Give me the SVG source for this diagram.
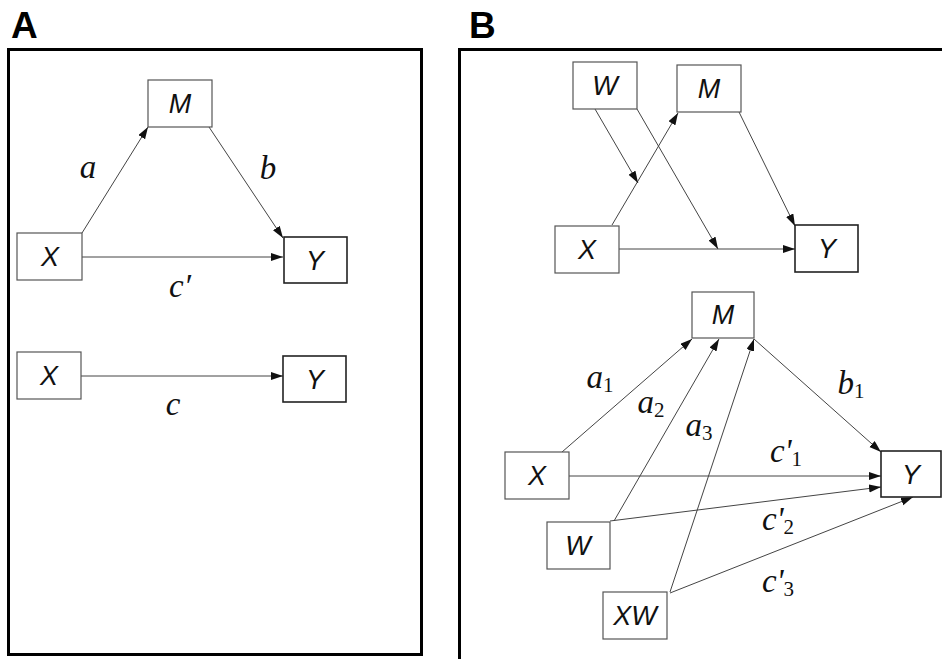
<svg xmlns="http://www.w3.org/2000/svg" width="942" height="659" viewBox="0 0 942 659">
<style>
.frame{fill:none;stroke:#000;stroke-width:3}
.box{fill:#fff;stroke:#555;stroke-width:1.2}
.boxd{fill:#fff;stroke:#222;stroke-width:1.6}
.nl{font-family:"Liberation Sans",Arial,sans-serif;font-style:italic;font-size:27px;fill:#111;text-anchor:middle}
.el{font-family:"Liberation Serif","Times New Roman",serif;font-style:italic;font-size:33px;fill:#111;text-anchor:middle}
.sub{font-style:normal;font-size:21px}
.panel{font-family:"Liberation Sans",Arial,sans-serif;font-weight:bold;font-size:37px;fill:#000}
.edge{fill:none;stroke:#444;stroke-width:1}
</style>
<defs>
<marker id="ah" markerUnits="userSpaceOnUse" markerWidth="13" markerHeight="9" refX="12" refY="4" orient="auto">
<path d="M0,0 L12,4 L0,8 z" fill="#111"/>
</marker>
</defs>
<rect width="942" height="659" fill="#fff"/>
<text class="panel" x="11" y="38">A</text>
<text class="panel" x="469" y="38">B</text>
<rect class="frame" x="8.5" y="49.5" width="413" height="605"/>
<path class="frame" d="M945,49.5 H459.5 V662"/>

<g id="connectors">
<line class="edge" x1="82" y1="233" x2="148" y2="127" marker-end="url(#ah)"/>
<line class="edge" x1="209" y1="127" x2="283" y2="238" marker-end="url(#ah)"/>
<line class="edge" x1="82" y1="257" x2="283" y2="257" marker-end="url(#ah)"/>
<line class="edge" x1="81" y1="376" x2="283" y2="376" marker-end="url(#ah)"/>

<line class="edge" x1="612" y1="225" x2="678" y2="113" marker-end="url(#ah)"/>
<line class="edge" x1="595" y1="109" x2="638" y2="183" marker-end="url(#ah)"/>
<line class="edge" x1="637" y1="109" x2="718" y2="249" marker-end="url(#ah)"/>
<line class="edge" x1="739" y1="112" x2="795" y2="226" marker-end="url(#ah)"/>
<line class="edge" x1="619" y1="249" x2="795" y2="249" marker-end="url(#ah)"/>

<line class="edge" x1="562" y1="452" x2="692" y2="339" marker-end="url(#ah)"/>
<line class="edge" x1="614" y1="521" x2="719" y2="339" marker-end="url(#ah)"/>
<line class="edge" x1="670" y1="592" x2="754" y2="339" marker-end="url(#ah)"/>
<line class="edge" x1="754" y1="339" x2="881" y2="452" marker-end="url(#ah)"/>
<line class="edge" x1="569" y1="476" x2="881" y2="476" marker-end="url(#ah)"/>
<line class="edge" x1="610" y1="521" x2="881" y2="487" marker-end="url(#ah)"/>
<line class="edge" x1="670" y1="593" x2="913" y2="497" marker-end="url(#ah)"/>
</g>

<g id="edge-labels">
<text class="el" x="88" y="178">a</text>
<text class="el" x="268" y="179">b</text>
<text class="el" x="180" y="297">c′</text>
<text class="el" x="173" y="415">c</text>
<text class="el" x="600" y="388">a<tspan class="sub" dy="4">1</tspan></text>
<text class="el" x="651" y="413">a<tspan class="sub" dy="4">2</tspan></text>
<text class="el" x="699" y="436">a<tspan class="sub" dy="4">3</tspan></text>
<text class="el" x="851" y="394">b<tspan class="sub" dy="4">1</tspan></text>
<text class="el" x="786" y="462">c'<tspan class="sub" dy="4">1</tspan></text>
<text class="el" x="778" y="530">c'<tspan class="sub" dy="4">2</tspan></text>
<text class="el" x="778" y="592">c'<tspan class="sub" dy="4">3</tspan></text>
</g>

<g id="A-M"><rect class="box" x="148" y="80" width="64" height="47"/><text class="nl" x="180" y="113">M</text></g>
<g id="A-X1"><rect class="box" x="17" y="233" width="65" height="47"/><text class="nl" x="50" y="266">X</text></g>
<g id="A-Y1"><rect class="boxd" x="284" y="237" width="63" height="46"/><text class="nl" x="315" y="270">Y</text></g>
<g id="A-X2"><rect class="box" x="17" y="352" width="64" height="47"/><text class="nl" x="49" y="385">X</text></g>
<g id="A-Y2"><rect class="boxd" x="283" y="356" width="63" height="46"/><text class="nl" x="315" y="389">Y</text></g>

<g id="B-W1"><rect class="box" x="573" y="62" width="64" height="47"/><text class="nl" x="605" y="95">W</text></g>
<g id="B-M1"><rect class="box" x="677" y="65" width="64" height="47"/><text class="nl" x="709" y="98">M</text></g>
<g id="B-X1"><rect class="box" x="555" y="226" width="64" height="47"/><text class="nl" x="587" y="259">X</text></g>
<g id="B-Y1"><rect class="boxd" x="795" y="225" width="63" height="47"/><text class="nl" x="827" y="258">Y</text></g>

<g id="B-M2"><rect class="box" x="692" y="292" width="62" height="46"/><text class="nl" x="723" y="324">M</text></g>
<g id="B-X2"><rect class="box" x="505" y="452" width="64" height="47"/><text class="nl" x="537" y="485">X</text></g>
<g id="B-W2"><rect class="box" x="547" y="522" width="63" height="47"/><text class="nl" x="578" y="555">W</text></g>
<g id="B-XW"><rect class="box" x="603" y="592" width="64" height="47"/><text class="nl" x="635" y="625">XW</text></g>
<g id="B-Y2"><rect class="boxd" x="881" y="451" width="60" height="46"/><text class="nl" x="911" y="484">Y</text></g>
</svg>
